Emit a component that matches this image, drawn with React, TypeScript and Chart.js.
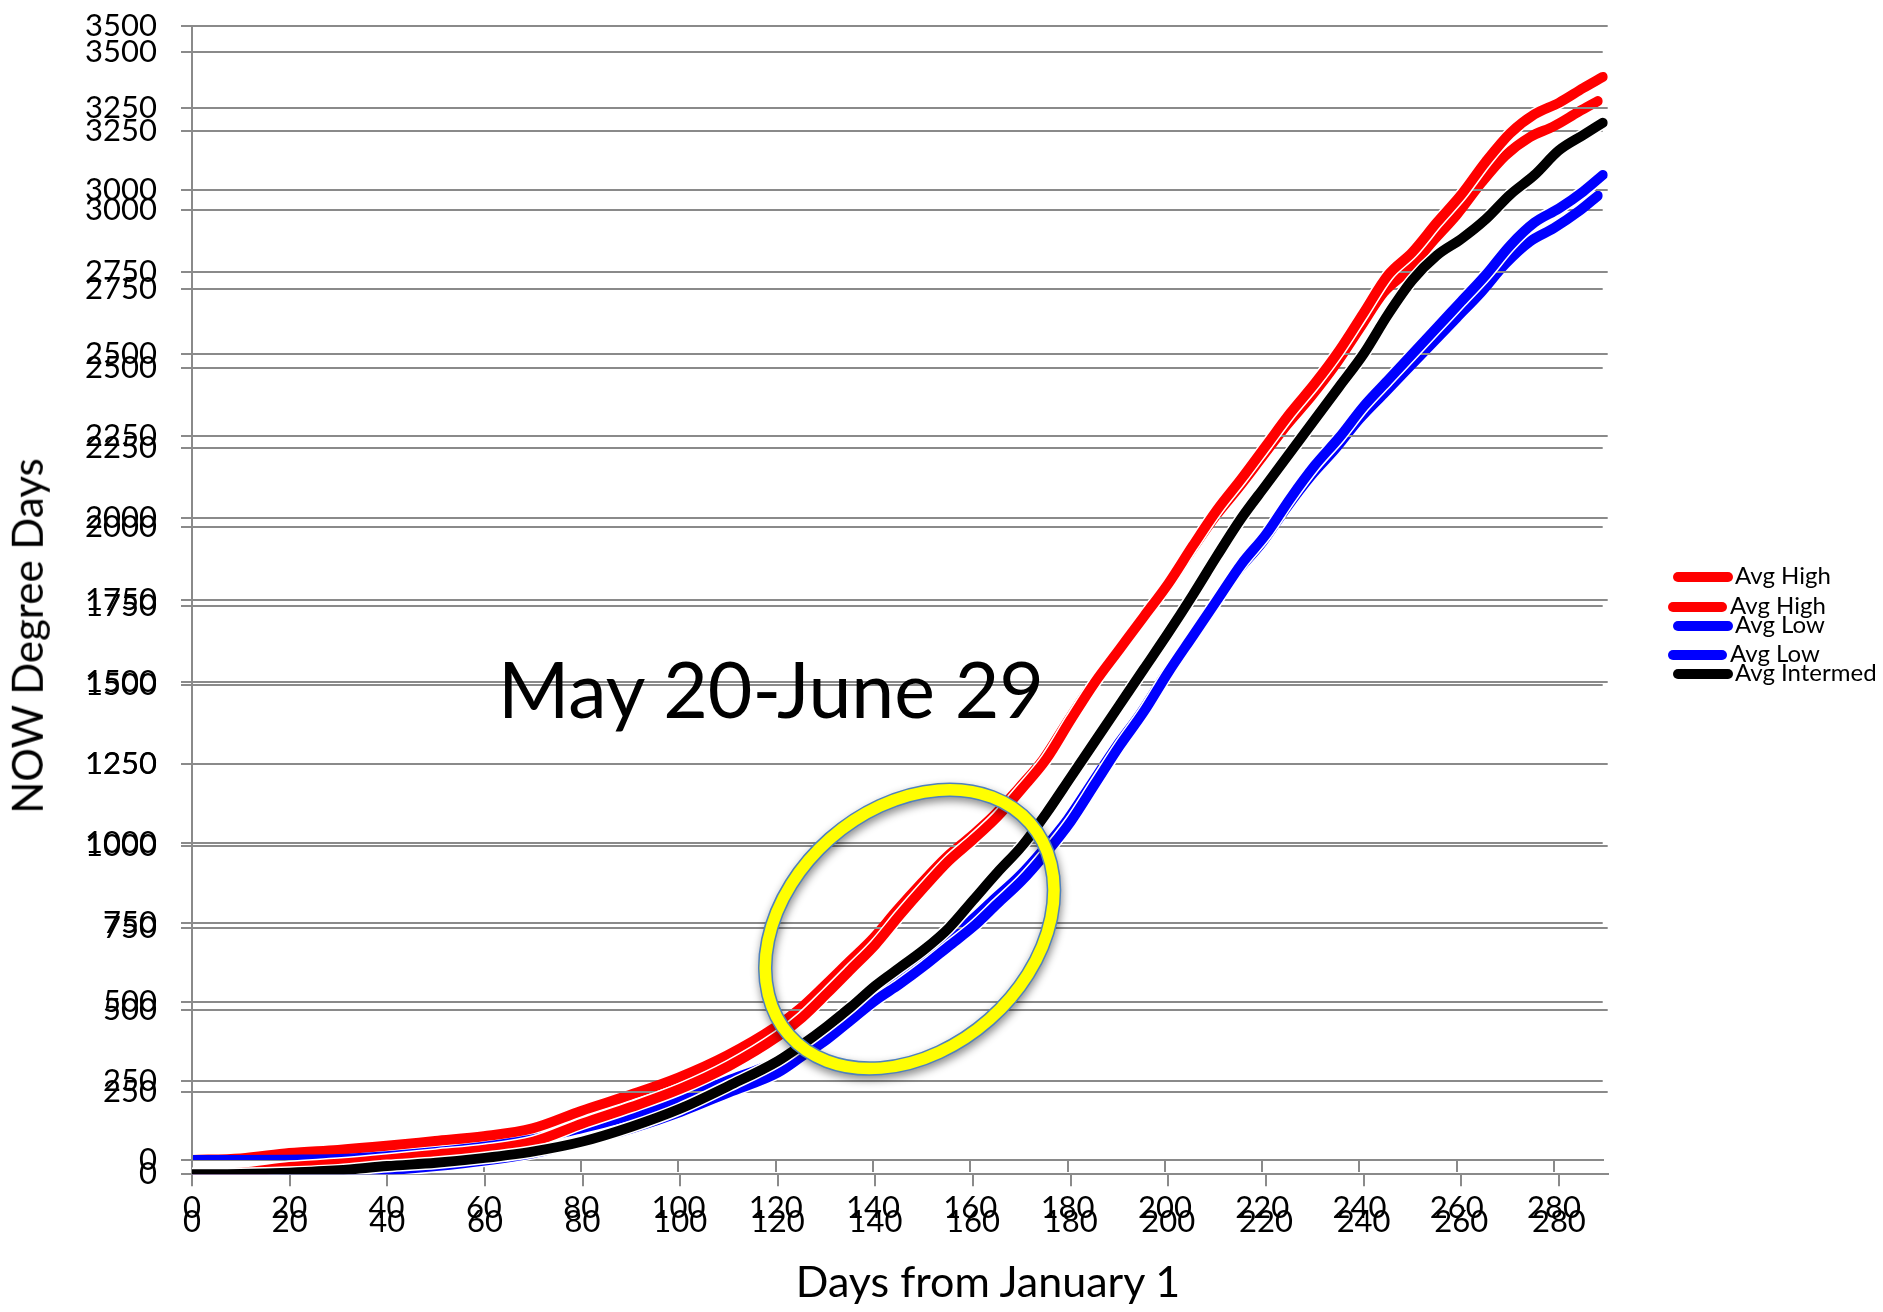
import React, { useEffect, useRef } from 'react';
import { Chart, registerables } from 'chart.js';
Chart.register(...registerables);

// ---- data ----
const days = [0, 10, 20, 30, 40, 50, 60, 70, 80, 90, 100, 110, 120,
  125, 130, 135, 140, 145, 150, 155, 160, 165, 170, 175, 180, 185, 190, 195, 200, 205, 210,
  215, 220, 225, 230, 235, 240, 245, 250, 255, 260, 265, 270, 275, 280, 285, 289];

const avgHigh = [0, 5, 22, 32, 45, 60, 75, 100, 155, 205, 260, 330, 420,
  478, 550, 625, 700, 790, 875, 955, 1020, 1090, 1175, 1265, 1385, 1500, 1600, 1700, 1800, 1915, 2025,
  2120, 2220, 2320, 2410, 2510, 2625, 2740, 2810, 2900, 2985, 3085, 3172, 3230, 3265, 3310, 3344];

const avgLow = [0, 0, 1, 3, 12, 25, 42, 65, 100, 140, 190, 250, 310,
  360, 410, 470, 530, 580, 635, 695, 754, 825, 895, 980, 1075, 1190, 1305, 1410, 1530, 1640, 1750,
  1860, 1950, 2060, 2160, 2245, 2340, 2420, 2500, 2580, 2660, 2740, 2830, 2900, 2943, 2995, 3045];

const avgIntermed = [0, 1, 5, 12, 25, 35, 50, 70, 100, 145, 200, 270, 345,
  395, 450, 510, 575, 630, 685, 750, 835, 920, 1000, 1100, 1210, 1320, 1430, 1540, 1650, 1765, 1885,
  2000, 2100, 2200, 2300, 2400, 2500, 2620, 2725, 2800, 2850, 2910, 2985, 3045, 3120, 3167, 3204];

const seriesLabels = ['Avg High', 'Avg Low', 'Avg Intermed'];
const seriesColors = ['#FF0000', '#0000FF', '#000000'];
const seriesValues = [avgHigh, avgLow, avgIntermed];

const xMin = 0, xMax = 290, xStep = 20;
const yMin = 0, yMax = 3500, yStep = 250;

const yTitle = 'NOW Degree Days';
const xTitle = 'Days from January 1';
const noteText = 'May 20-June 29';
const noteCenter = [147, 747]; // day, degree days (centre of the highlighted window)

const W = 1883, H = 1312;
const GRID = '#8a8a8a';
const TICK_FONT = { family: 'Lato', size: 31 };
const LINE_W = 10;

type Frame = { top: number; right: number; xAxisH: number; nSeries: number; ellipse: boolean; halo: boolean };

const ellipsePlugin = {
  id: 'ellipseNote',
  afterDraw(chart: any) {
    const { ctx, scales } = chart;
    const cx = scales.x.getPixelForValue(noteCenter[0]);
    const cy = scales.y.getPixelForValue(noteCenter[1]);
    const rot = (-41.4 * Math.PI) / 180;
    ctx.save();
    ctx.beginPath();
    ctx.ellipse(cx, cy, 160.5, 120.5, rot, 0, Math.PI * 2);
    ctx.shadowColor = 'rgba(0,0,0,0.45)';
    ctx.shadowBlur = 8;
    ctx.shadowOffsetX = 1;
    ctx.shadowOffsetY = 4;
    ctx.strokeStyle = '#4F81BD';
    ctx.lineWidth = 14.5;
    ctx.stroke();
    ctx.shadowColor = 'rgba(0,0,0,0)';
    ctx.strokeStyle = '#FFFF00';
    ctx.lineWidth = 11.5;
    ctx.stroke();
    ctx.restore();
  },
};

const plainNumber = (v: any) => String(v);

function makeConfig(f: Frame): any {
  const datasets: any[] = [];
  seriesValues.slice(0, f.nSeries).forEach((vals, i) => {
    const points = days.map((d, k) => ({ x: d, y: vals[k] }));
    const base = {
      data: points,
      pointRadius: 0,
      borderCapStyle: 'round',
      borderJoinStyle: 'round',
      cubicInterpolationMode: 'monotone',
      fill: false,
    };
    if (f.halo) {
      // thin white outline drawn just beneath each series
      datasets.push({ ...base, label: seriesLabels[i] + ' outline', borderColor: '#FFFFFF', backgroundColor: '#FFFFFF', borderWidth: LINE_W + 3, order: 2 * (3 - i) + 2 });
    }
    datasets.push({ ...base, label: seriesLabels[i], borderColor: seriesColors[i], backgroundColor: seriesColors[i], borderWidth: LINE_W, order: 2 * (3 - i) + 1 });
  });
  return {
    type: 'line',
    data: { datasets },
    plugins: f.ellipse ? [ellipsePlugin] : [],
    options: {
      animation: false,
      responsive: false,
      devicePixelRatio: 1,
      events: [],
      layout: { padding: { left: 0, top: f.top, right: f.right, bottom: 0 } },
      plugins: { legend: { display: false }, tooltip: { enabled: false }, title: { display: false } },
      scales: {
        x: {
          type: 'linear',
          min: xMin,
          max: xMax,
          afterFit: (s: any) => { s.height = f.xAxisH; s.paddingLeft = 0; s.paddingRight = 0; },
          border: { display: true, color: GRID, width: 2 },
          grid: { drawOnChartArea: false, drawTicks: true, tickLength: 12, color: GRID, lineWidth: 2 },
          ticks: { stepSize: xStep, includeBounds: false, color: '#000', font: TICK_FONT, padding: 17, maxRotation: 0, autoSkip: false, callback: plainNumber },
        },
        y: {
          type: 'linear',
          min: yMin,
          max: yMax,
          afterFit: (s: any) => { s.width = 192; s.paddingTop = 0; s.paddingBottom = 0; },
          border: { display: true, color: GRID, width: 2 },
          grid: { drawOnChartArea: true, drawTicks: true, tickLength: 11, color: GRID, lineWidth: 2 },
          ticks: { stepSize: yStep, includeBounds: false, color: '#000', font: TICK_FONT, padding: 24, autoSkip: false, callback: plainNumber },
        },
      },
    },
  };
}

type LegendSpec = { n: number; markerLeft: number; markerWidth: number; firstY: number; step: number; textLeft: number };

function Legend({ spec }: { spec: LegendSpec }) {
  const F = 24;
  return (
    <>
      {seriesLabels.slice(0, spec.n).map((lab, i) => {
        const y = spec.firstY + i * spec.step;
        return (
          <React.Fragment key={lab}>
            <div style={{ position: 'absolute', left: spec.markerLeft, top: y - 5, width: spec.markerWidth, height: 10, borderRadius: 5, background: seriesColors[i] }} />
            <div style={{ position: 'absolute', left: spec.textLeft, top: y + 7.7 - 0.987 * F, fontFamily: 'Lato', fontSize: F, lineHeight: 1.2, whiteSpace: 'nowrap', color: '#000' }}>{lab}</div>
          </React.Fragment>
        );
      })}
    </>
  );
}

export default function App() {
  const backRef = useRef<HTMLCanvasElement>(null);
  const frontRef = useRef<HTMLCanvasElement>(null);

  useEffect(() => {
    const back = new Chart(backRef.current as HTMLCanvasElement, makeConfig({ top: 51.7, right: W - 1602.7, xAxisH: H - 1160, nSeries: 2, ellipse: false, halo: false }));
    const front = new Chart(frontRef.current as HTMLCanvasElement, makeConfig({ top: 25.7, right: W - 1607.7, xAxisH: H - 1174.3, nSeries: 3, ellipse: true, halo: true }));
    return () => { back.destroy(); front.destroy(); };
  }, []);

  const canvasStyle: React.CSSProperties = { position: 'absolute', left: 0, top: 0, width: W, height: H };

  return (
    <div style={{ position: 'absolute', left: 0, top: 0, width: W, height: H, background: '#fff', overflow: 'hidden' }}>
      <canvas ref={backRef} width={W} height={H} style={canvasStyle} />
      <Legend spec={{ n: 2, markerLeft: 1668, markerWidth: 59, firstY: 607.3, step: 48, textLeft: 1730 }} />
      <canvas ref={frontRef} width={W} height={H} style={canvasStyle} />
      <Legend spec={{ n: 3, markerLeft: 1673, markerWidth: 60, firstY: 577.3, step: 48.35, textLeft: 1735 }} />
      <div style={{ position: 'absolute', left: 26.7, top: 636, transform: 'translate(-50%, -50%) rotate(-90deg)', fontFamily: 'Lato', fontSize: 42, lineHeight: 1.2, whiteSpace: 'nowrap', color: '#000' }}>{yTitle}</div>
      <div style={{ position: 'absolute', left: 988, top: 1297 - 0.987 * 43, transform: 'translateX(-50%)', fontFamily: 'Lato', fontSize: 43, lineHeight: 1.2, whiteSpace: 'nowrap', color: '#000' }}>{xTitle}</div>
      <div style={{ position: 'absolute', left: 498, top: 718 - 0.987 * 77, fontFamily: 'Lato', fontSize: 77, lineHeight: 1.2, whiteSpace: 'nowrap', color: '#000' }}>{noteText}</div>
    </div>
  );
}
